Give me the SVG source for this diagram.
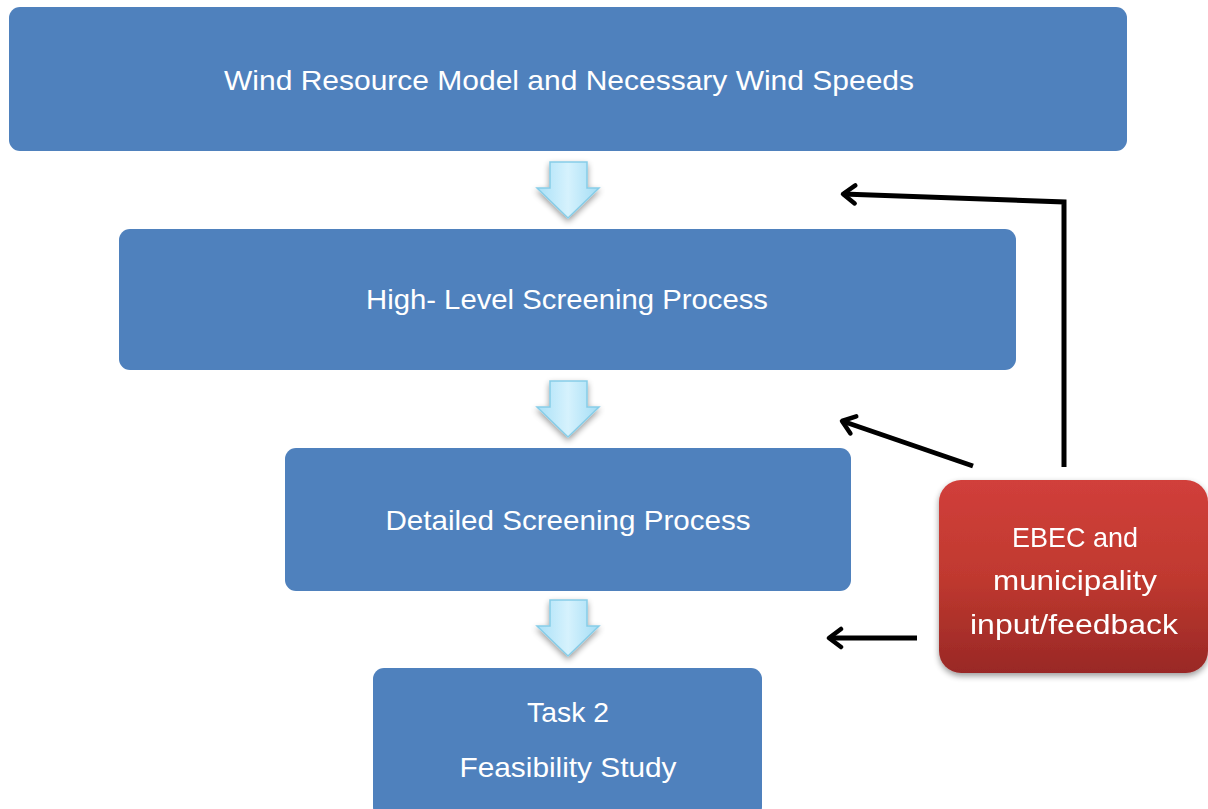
<svg xmlns="http://www.w3.org/2000/svg" width="1208" height="809" viewBox="0 0 1208 809">
<defs>
<linearGradient id="redg" x1="0" y1="0" x2="0" y2="1">
<stop offset="0" stop-color="#d13f3b"/>
<stop offset="0.5" stop-color="#c0392f"/>
<stop offset="1" stop-color="#992826"/>
</linearGradient>
<linearGradient id="arrg" x1="0" y1="0" x2="1" y2="0">
<stop offset="0" stop-color="#a9e0f7"/>
<stop offset="0.5" stop-color="#d6f2fd"/>
<stop offset="1" stop-color="#a3ddf5"/>
</linearGradient>
<filter id="sh" x="-10%" y="-10%" width="120%" height="130%">
<feGaussianBlur in="SourceAlpha" stdDeviation="3"/>
<feOffset dx="0" dy="3"/>
<feComponentTransfer><feFuncA type="linear" slope="0.4"/></feComponentTransfer>
<feMerge><feMergeNode/><feMergeNode in="SourceGraphic"/></feMerge>
</filter>
<marker id="chev" viewBox="0 0 24 24" refX="20" refY="12" markerWidth="24" markerHeight="24" markerUnits="userSpaceOnUse" orient="auto">
<path d="M8,3 L20,12 L8,21" fill="none" stroke="#000" stroke-width="4.5" stroke-linecap="round" stroke-linejoin="round"/>
</marker>
</defs>
<style>
.box{fill:#4f81bd;}
.t{font-family:"Liberation Sans",Arial,sans-serif;fill:#ffffff;font-size:28px;text-anchor:middle;}
.conn{fill:none;stroke:#000;stroke-width:5;stroke-linejoin:miter;}
.darr{fill:url(#arrg);stroke:#86cde8;stroke-width:1.5;}
</style>
<rect width="1208" height="809" fill="#ffffff"/>
<g id="node-wind">
<rect class="box" x="9" y="7" width="1118" height="144" rx="11"/>
<text class="t" x="569" y="90" textLength="690" lengthAdjust="spacingAndGlyphs">Wind Resource Model and Necessary Wind Speeds</text>
</g>
<g id="node-high">
<rect class="box" x="119" y="229" width="897" height="141" rx="11"/>
<text class="t" x="567" y="309" textLength="402" lengthAdjust="spacingAndGlyphs">High- Level Screening  Process</text>
</g>
<g id="node-detailed">
<rect class="box" x="285" y="448" width="566" height="143" rx="11"/>
<text class="t" x="568" y="530" textLength="365" lengthAdjust="spacingAndGlyphs">Detailed Screening  Process</text>
</g>
<g id="node-task2">
<rect class="box" x="373" y="668" width="389" height="150" rx="11"/>
<text class="t" x="568" y="722" textLength="82" lengthAdjust="spacingAndGlyphs">Task 2</text>
<text class="t" x="568" y="777" textLength="217" lengthAdjust="spacingAndGlyphs">Feasibility Study</text>
</g>
<g id="node-ebec" filter="url(#sh)">
<rect x="939" y="480" width="269" height="193" rx="22" fill="url(#redg)"/>
<text class="t" x="1075" y="547" textLength="126" lengthAdjust="spacingAndGlyphs">EBEC and</text>
<text class="t" x="1075" y="590" textLength="164" lengthAdjust="spacingAndGlyphs">municipality</text>
<text class="t" x="1074" y="634" textLength="208" lengthAdjust="spacingAndGlyphs">input/feedback</text>
</g>
<g id="flow-arrows" filter="url(#sh)">
<path class="darr" d="M550,162 L587,162 L587,188 L599,188 L568,218 L537,188 L550,188 Z"/>
<path class="darr" d="M550,381 L587,381 L587,407 L599,407 L568,437 L537,407 L550,407 Z"/>
<path class="darr" d="M550,600 L587,600 L587,626 L599,626 L568,656 L537,626 L550,626 Z"/>
</g>
<g id="connectors">
<path class="conn" d="M1064,467 L1064,202 L843,194" marker-end="url(#chev)"/>
<path class="conn" d="M973,466 L842,421" marker-end="url(#chev)"/>
<path class="conn" d="M917,638 L829,638" marker-end="url(#chev)"/>
</g>
</svg>
